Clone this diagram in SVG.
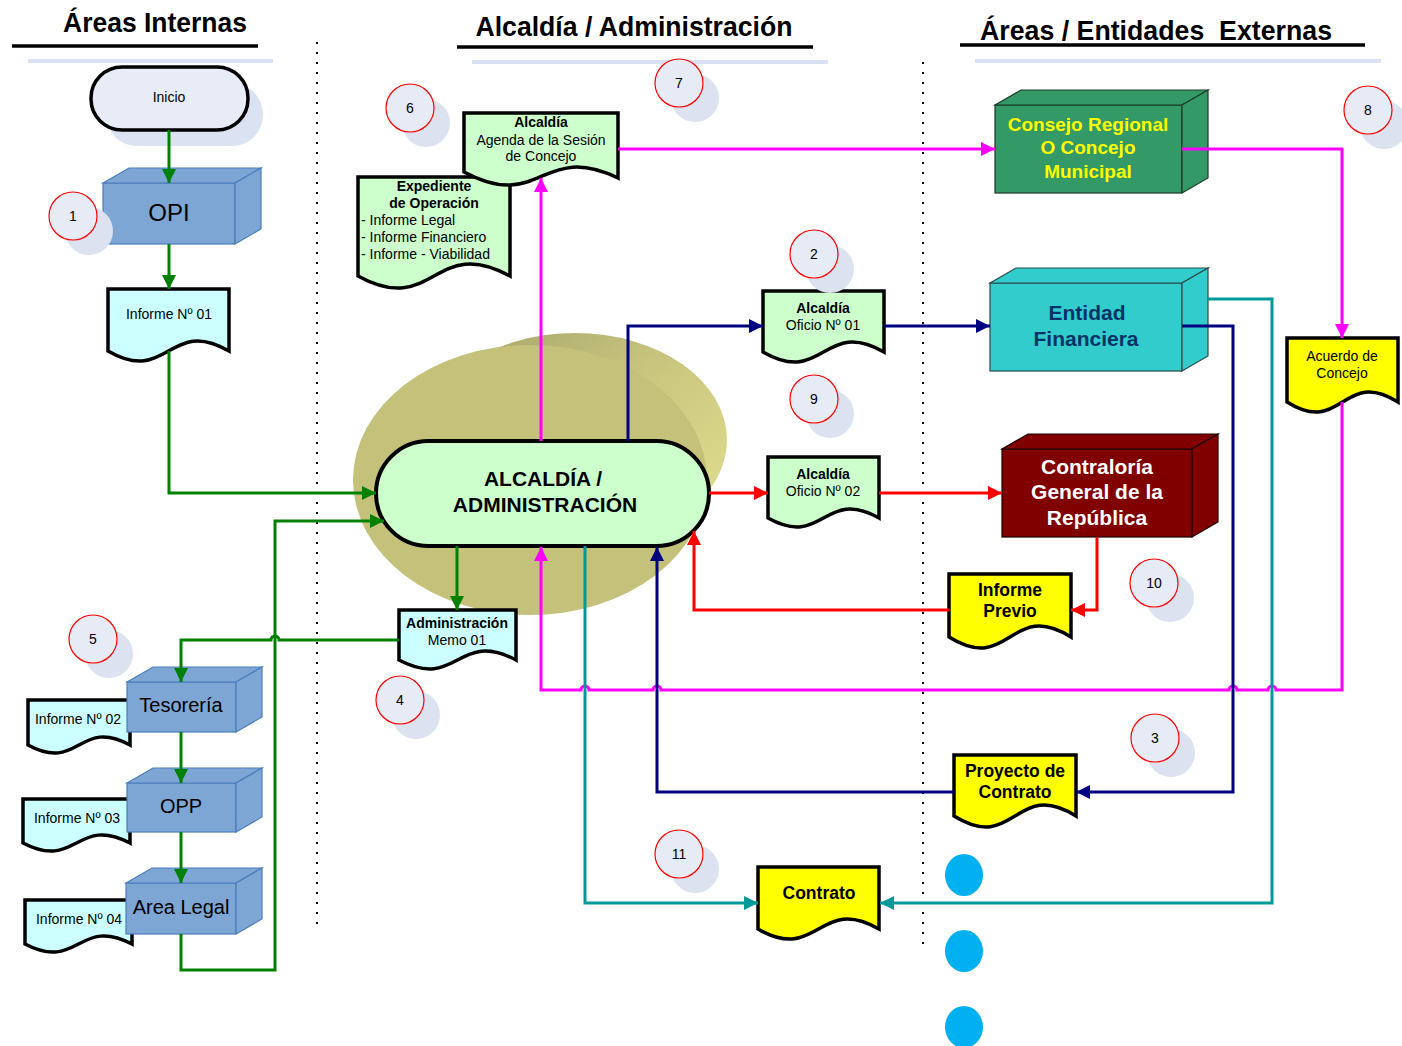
<svg xmlns="http://www.w3.org/2000/svg" width="1402" height="1046" viewBox="0 0 1402 1046">
<style>
text{font-family:"Liberation Sans",Arial,sans-serif;fill:#000;text-anchor:middle}
.hdr{font-size:27px;font-weight:bold}
.s14{font-size:14px}
.b14{font-size:14px;font-weight:bold}
.b17{font-size:17.5px;font-weight:bold}
.b21{font-size:21px;font-weight:bold}
.doc{stroke:#000;stroke-width:3.5;stroke-linejoin:miter}
.cyan{fill:#ccffff}
.grn{fill:#ccffcc}
.yel{fill:#ffff00}
.blue3d{fill:#7ea6d4;stroke:#4a7ebb;stroke-width:1.2}
.circ{fill:#e6ebf5;stroke:#ff0000;stroke-width:1.2}
.shad{fill:#dce2ef}
.ln{fill:none;stroke-width:3}
.g{stroke:#008000}
.m{stroke:#ff00ff}
.n{stroke:#000080}
.r{stroke:#ff0000}
.t{stroke:#009999}
.dots{stroke:#000;stroke-width:2;stroke-dasharray:2 8;fill:none}
</style>
<defs>
<marker id="ag" viewBox="0 0 10 10" refX="10" refY="5" markerWidth="14" markerHeight="14" markerUnits="userSpaceOnUse" orient="auto"><path d="M0,0 L10,5 L0,10 z" fill="#008000"/></marker>
<marker id="am" viewBox="0 0 10 10" refX="10" refY="5" markerWidth="14" markerHeight="14" markerUnits="userSpaceOnUse" orient="auto"><path d="M0,0 L10,5 L0,10 z" fill="#ff00ff"/></marker>
<marker id="an" viewBox="0 0 10 10" refX="10" refY="5" markerWidth="14" markerHeight="14" markerUnits="userSpaceOnUse" orient="auto"><path d="M0,0 L10,5 L0,10 z" fill="#000080"/></marker>
<marker id="ar" viewBox="0 0 10 10" refX="10" refY="5" markerWidth="14" markerHeight="14" markerUnits="userSpaceOnUse" orient="auto"><path d="M0,0 L10,5 L0,10 z" fill="#ff0000"/></marker>
<marker id="at" viewBox="0 0 10 10" refX="10" refY="5" markerWidth="14" markerHeight="14" markerUnits="userSpaceOnUse" orient="auto"><path d="M0,0 L10,5 L0,10 z" fill="#009999"/></marker>
<linearGradient id="backg" x1="0" y1="0" x2="1" y2="1">
<stop offset="0" stop-color="#a3a168"/>
<stop offset="0.5" stop-color="#cbc980"/>
<stop offset="1" stop-color="#e2e08e"/>
</linearGradient>
</defs>
<rect width="1402" height="1046" fill="#ffffff"/>

<g id="headers">
<text class="hdr" x="155" y="32" textLength="184" lengthAdjust="spacingAndGlyphs">Áreas Internas</text>
<line x1="12" y1="46" x2="258" y2="46" stroke="#000" stroke-width="3.5"/>
<line x1="28" y1="61" x2="273" y2="61" stroke="#d9e1f2" stroke-width="4"/>
<text class="hdr" x="634" y="36" textLength="317" lengthAdjust="spacingAndGlyphs">Alcaldía / Administración</text>
<line x1="457" y1="47" x2="813" y2="47" stroke="#000" stroke-width="3.5"/>
<line x1="472" y1="62" x2="828" y2="62" stroke="#d9e1f2" stroke-width="4"/>
<text class="hdr" x="1156" y="40" xml:space="preserve" textLength="352" lengthAdjust="spacingAndGlyphs">Áreas / Entidades  Externas</text>
<line x1="960" y1="45" x2="1365" y2="45" stroke="#000" stroke-width="3.5"/>
<line x1="975" y1="61" x2="1381" y2="61" stroke="#d9e1f2" stroke-width="4"/>
<line class="dots" x1="317" y1="42" x2="317" y2="928"/>
<line class="dots" x1="923" y1="62" x2="923" y2="948"/>
</g>

<g id="backdrop">
<ellipse cx="575" cy="440" rx="152" ry="107" fill="url(#backg)"/>
<ellipse cx="530" cy="480" rx="177" ry="135" fill="#c4c17a"/>
</g>

<g id="inicio">
<rect x="106" y="83" width="157" height="63" rx="31" fill="#dbe2f1"/>
<rect x="91" y="67" width="157" height="63" rx="31" fill="#e8ecf7" stroke="#000" stroke-width="3.5"/>
<text class="s14" x="169" y="102">Inicio</text>
</g>

<g id="opi">
<rect class="blue3d" x="103" y="183" width="132" height="61"/>
<path class="blue3d" d="M103,183 L129,168 L261,168 L235,183 Z"/>
<path class="blue3d" d="M235,183 L261,168 L261,229 L235,244 Z"/>
<text x="169" y="221" style="font-size:24px">OPI</text>
</g>

<g id="informe01">
<path class="doc cyan" d="M108,289 H229 V351 C168.5,316 168.5,386 108,351 Z"/>
<text class="s14" x="169" y="319">Informe Nº 01</text>
</g>

<g id="expediente">
<path class="doc grn" d="M358,177 H510 V276 C434,234 434,318 358,276 Z"/>
<text class="b14" x="434" y="191">Expediente</text>
<text class="b14" x="434" y="208">de Operación</text>
<text class="s14" x="361" y="225" style="text-anchor:start">- Informe Legal</text>
<text class="s14" x="361" y="242" style="text-anchor:start">- Informe Financiero</text>
<text class="s14" x="361" y="259" style="text-anchor:start">- Informe - Viabilidad</text>
</g>

<g id="agenda">
<path class="doc grn" d="M464,113 H618 V178 C541,141 541,213 464,172 Z"/>
<text class="b14" x="541" y="127">Alcaldía</text>
<text class="s14" x="541" y="145">Agenda de la Sesión</text>
<text class="s14" x="541" y="161">de Concejo</text>
</g>

<g id="alcaldia">
<rect x="376" y="441" width="333" height="105" rx="52.5" fill="#ccffcc" stroke="#000" stroke-width="4"/>
<text class="b21" x="543" y="486">ALCALDÍA /</text>
<text class="b21" x="545" y="512">ADMINISTRACIÓN</text>
</g>

<g id="memo">
<path class="doc cyan" d="M399,610 H516 V660 C457.5,629 457.5,691 399,660 Z"/>
<text class="b14" x="457" y="628">Administración</text>
<text class="s14" x="457" y="645">Memo 01</text>
</g>

<g id="informe02">
<path class="doc cyan" d="M28,700 H130 V745 C79,717 79,773 28,745 Z"/>
<text class="s14" x="78" y="724">Informe Nº 02</text>
</g>
<g id="tesoreria">
<rect class="blue3d" x="127" y="682" width="109" height="50"/>
<path class="blue3d" d="M127,682 L153,667 L262,667 L236,682 Z"/>
<path class="blue3d" d="M236,682 L262,667 L262,717 L236,732 Z"/>
<text x="181" y="712" style="font-size:20px">Tesorería</text>
</g>

<g id="informe03">
<path class="doc cyan" d="M23,799 H130 V843 C76.5,815 76.5,871 23,843 Z"/>
<text class="s14" x="77" y="823">Informe Nº 03</text>
</g>
<g id="opp">
<rect class="blue3d" x="127" y="783" width="109" height="49"/>
<path class="blue3d" d="M127,783 L153,768 L262,768 L236,783 Z"/>
<path class="blue3d" d="M236,783 L262,768 L262,817 L236,832 Z"/>
<text x="181" y="813" style="font-size:20px">OPP</text>
</g>

<g id="informe04">
<path class="doc cyan" d="M25,900 H132 V944 C78.5,916 78.5,972 25,944 Z"/>
<text class="s14" x="79" y="924">Informe Nº 04</text>
</g>
<g id="arealegal">
<rect class="blue3d" x="126" y="883" width="110" height="51"/>
<path class="blue3d" d="M126,883 L152,868 L262,868 L236,883 Z"/>
<path class="blue3d" d="M236,883 L262,868 L262,919 L236,934 Z"/>
<text x="181" y="914" style="font-size:20px">Area Legal</text>
</g>

<g id="oficio01">
<path class="doc grn" d="M763,291 H884 V352 C823.5,317 823.5,387 763,352 Z"/>
<text class="b14" x="823" y="313">Alcaldía</text>
<text class="s14" x="823" y="330">Oficio Nº 01</text>
</g>

<g id="oficio02">
<path class="doc grn" d="M768,457 H879 V518 C823.5,487 823.5,549 768,518 Z"/>
<text class="b14" x="823" y="479">Alcaldía</text>
<text class="s14" x="823" y="496">Oficio Nº 02</text>
</g>

<g id="consejo">
<rect x="995" y="105" width="187" height="88" fill="#339966" stroke="#1c3a28" stroke-width="1.2"/>
<path d="M995,105 L1021,90 L1208,90 L1182,105 Z" fill="#339966" stroke="#1c3a28" stroke-width="1.2"/>
<path d="M1182,105 L1208,90 L1208,178 L1182,193 Z" fill="#339966" stroke="#1c3a28" stroke-width="1.2"/>
<text x="1088" y="131" style="font-size:19px;font-weight:bold;fill:#ffff00">Consejo Regional</text>
<text x="1088" y="154" style="font-size:19px;font-weight:bold;fill:#ffff00">O Concejo</text>
<text x="1088" y="178" style="font-size:19px;font-weight:bold;fill:#ffff00">Municipal</text>
</g>

<g id="entidad">
<rect x="990" y="283" width="192" height="88" fill="#33cccc" stroke="#2a4a4a" stroke-width="1.2"/>
<path d="M990,283 L1016,268 L1208,268 L1182,283 Z" fill="#33cccc" stroke="#2a4a4a" stroke-width="1.2"/>
<path d="M1182,283 L1208,268 L1208,356 L1182,371 Z" fill="#33cccc" stroke="#2a4a4a" stroke-width="1.2"/>
<text class="b21" x="1087" y="320" style="fill:#003366">Entidad</text>
<text class="b21" x="1086" y="346" style="fill:#003366">Financiera</text>
</g>

<g id="acuerdo">
<path class="doc yel" d="M1287,338 H1398 V402 C1342.5,367 1342.5,437 1287,402 Z"/>
<text class="s14" x="1342" y="361">Acuerdo de</text>
<text class="s14" x="1342" y="378">Concejo</text>
</g>

<g id="contraloria">
<rect x="1002" y="449" width="190" height="88" fill="#800000" stroke="#1a0000" stroke-width="1.2"/>
<path d="M1002,449 L1028,434 L1218,434 L1192,449 Z" fill="#800000" stroke="#1a0000" stroke-width="1.2"/>
<path d="M1192,449 L1218,434 L1218,522 L1192,537 Z" fill="#800000" stroke="#1a0000" stroke-width="1.2"/>
<text class="b21" x="1097" y="474" style="fill:#ffffff">Contraloría</text>
<text class="b21" x="1097" y="499" style="fill:#ffffff">General de la</text>
<text class="b21" x="1097" y="525" style="fill:#ffffff">República</text>
</g>

<g id="informeprevio">
<path class="doc yel" d="M949,574 H1071 V637 C1010,599 1010,675 949,637 Z"/>
<text class="b17" x="1010" y="596">Informe</text>
<text class="b17" x="1010" y="617">Previo</text>
</g>

<g id="proyecto">
<path class="doc yel" d="M954,755 H1076 V816 C1015,778 1015,854 954,816 Z"/>
<text class="b17" x="1015" y="777">Proyecto de</text>
<text class="b17" x="1015" y="798">Contrato</text>
</g>

<g id="contrato">
<path class="doc yel" d="M758,867 H879 V929 C818.5,894 818.5,964 758,929 Z"/>
<text class="b17" x="819" y="899">Contrato</text>
</g>

<g id="bluedots">
<ellipse cx="964" cy="875" rx="19" ry="21" fill="#00b0f0"/>
<ellipse cx="964" cy="951" rx="19" ry="21" fill="#00b0f0"/>
<ellipse cx="964" cy="1027" rx="19" ry="21" fill="#00b0f0"/>
</g>

<g id="steps">
<g id="step1"><circle class="shad" cx="89" cy="231" r="24"/><circle class="circ" cx="73" cy="216" r="24"/><text class="s14" x="73" y="221">1</text></g>
<g id="step2"><circle class="shad" cx="830" cy="269" r="24"/><circle class="circ" cx="814" cy="254" r="24"/><text class="s14" x="814" y="259">2</text></g>
<g id="step3"><circle class="shad" cx="1171" cy="753" r="24"/><circle class="circ" cx="1155" cy="738" r="24"/><text class="s14" x="1155" y="743">3</text></g>
<g id="step4"><circle class="shad" cx="416" cy="715" r="24"/><circle class="circ" cx="400" cy="700" r="24"/><text class="s14" x="400" y="705">4</text></g>
<g id="step5"><circle class="shad" cx="109" cy="654" r="24"/><circle class="circ" cx="93" cy="639" r="24"/><text class="s14" x="93" y="644">5</text></g>
<g id="step6"><circle class="shad" cx="426" cy="123" r="24"/><circle class="circ" cx="410" cy="108" r="24"/><text class="s14" x="410" y="113">6</text></g>
<g id="step7"><circle class="shad" cx="695" cy="98" r="24"/><circle class="circ" cx="679" cy="83" r="24"/><text class="s14" x="679" y="88">7</text></g>
<g id="step8"><circle class="shad" cx="1384" cy="125" r="24"/><circle class="circ" cx="1368" cy="110" r="24"/><text class="s14" x="1368" y="115">8</text></g>
<g id="step9"><circle class="shad" cx="830" cy="414" r="24"/><circle class="circ" cx="814" cy="399" r="24"/><text class="s14" x="814" y="404">9</text></g>
<g id="step10"><circle class="shad" cx="1170" cy="598" r="24"/><circle class="circ" cx="1154" cy="583" r="24"/><text class="s14" x="1154" y="588">10</text></g>
<g id="step11"><circle class="shad" cx="695" cy="869" r="24"/><circle class="circ" cx="679" cy="854" r="24"/><text class="s14" x="679" y="859">11</text></g>
</g>

<g id="connectors">
<path class="ln g" d="M169,130 V183" marker-end="url(#ag)"/>
<path class="ln g" d="M169,244 V289" marker-end="url(#ag)"/>
<path class="ln g" d="M169,351 V493 H376" marker-end="url(#ag)"/>
<path class="ln g" d="M457,546 V610" marker-end="url(#ag)"/>
<path class="ln g" d="M399,640 H279 A4,4 0 0 0 271,640 H181 V682" marker-end="url(#ag)"/>
<path class="ln g" d="M181,732 V783" marker-end="url(#ag)"/>
<path class="ln g" d="M181,832 V883" marker-end="url(#ag)"/>
<path class="ln g" d="M181,934 V970 H275 V521 H384" marker-end="url(#ag)"/>

<path class="ln m" d="M541,441 V178" marker-end="url(#am)"/>
<path class="ln m" d="M618,149 H995" marker-end="url(#am)"/>
<path class="ln m" d="M1182,149 H1342 V338" marker-end="url(#am)"/>
<path class="ln m" d="M1342,402 V690 H1276 A4,4 0 0 0 1268,690 H1237 A4,4 0 0 0 1229,690 H661 A4,4 0 0 0 653,690 H589 A4,4 0 0 0 581,690 H541 V547" marker-end="url(#am)"/>

<path class="ln n" d="M628,441 V326 H763" marker-end="url(#an)"/>
<path class="ln n" d="M884,326 H990" marker-end="url(#an)"/>
<path class="ln n" d="M1182,326 H1233 V792 H1076" marker-end="url(#an)"/>
<path class="ln n" d="M954,792 H657 V547" marker-end="url(#an)"/>

<path class="ln r" d="M709,493 H768" marker-end="url(#ar)"/>
<path class="ln r" d="M879,493 H1002" marker-end="url(#ar)"/>
<path class="ln r" d="M1097,537 V610 H1071" marker-end="url(#ar)"/>
<path class="ln r" d="M949,610 H694 V531" marker-end="url(#ar)"/>

<path class="ln t" d="M1208,299 H1272 V903 H880" marker-end="url(#at)"/>
<path class="ln t" d="M585,546 V903 H758" marker-end="url(#at)"/>
</g>
</svg>
